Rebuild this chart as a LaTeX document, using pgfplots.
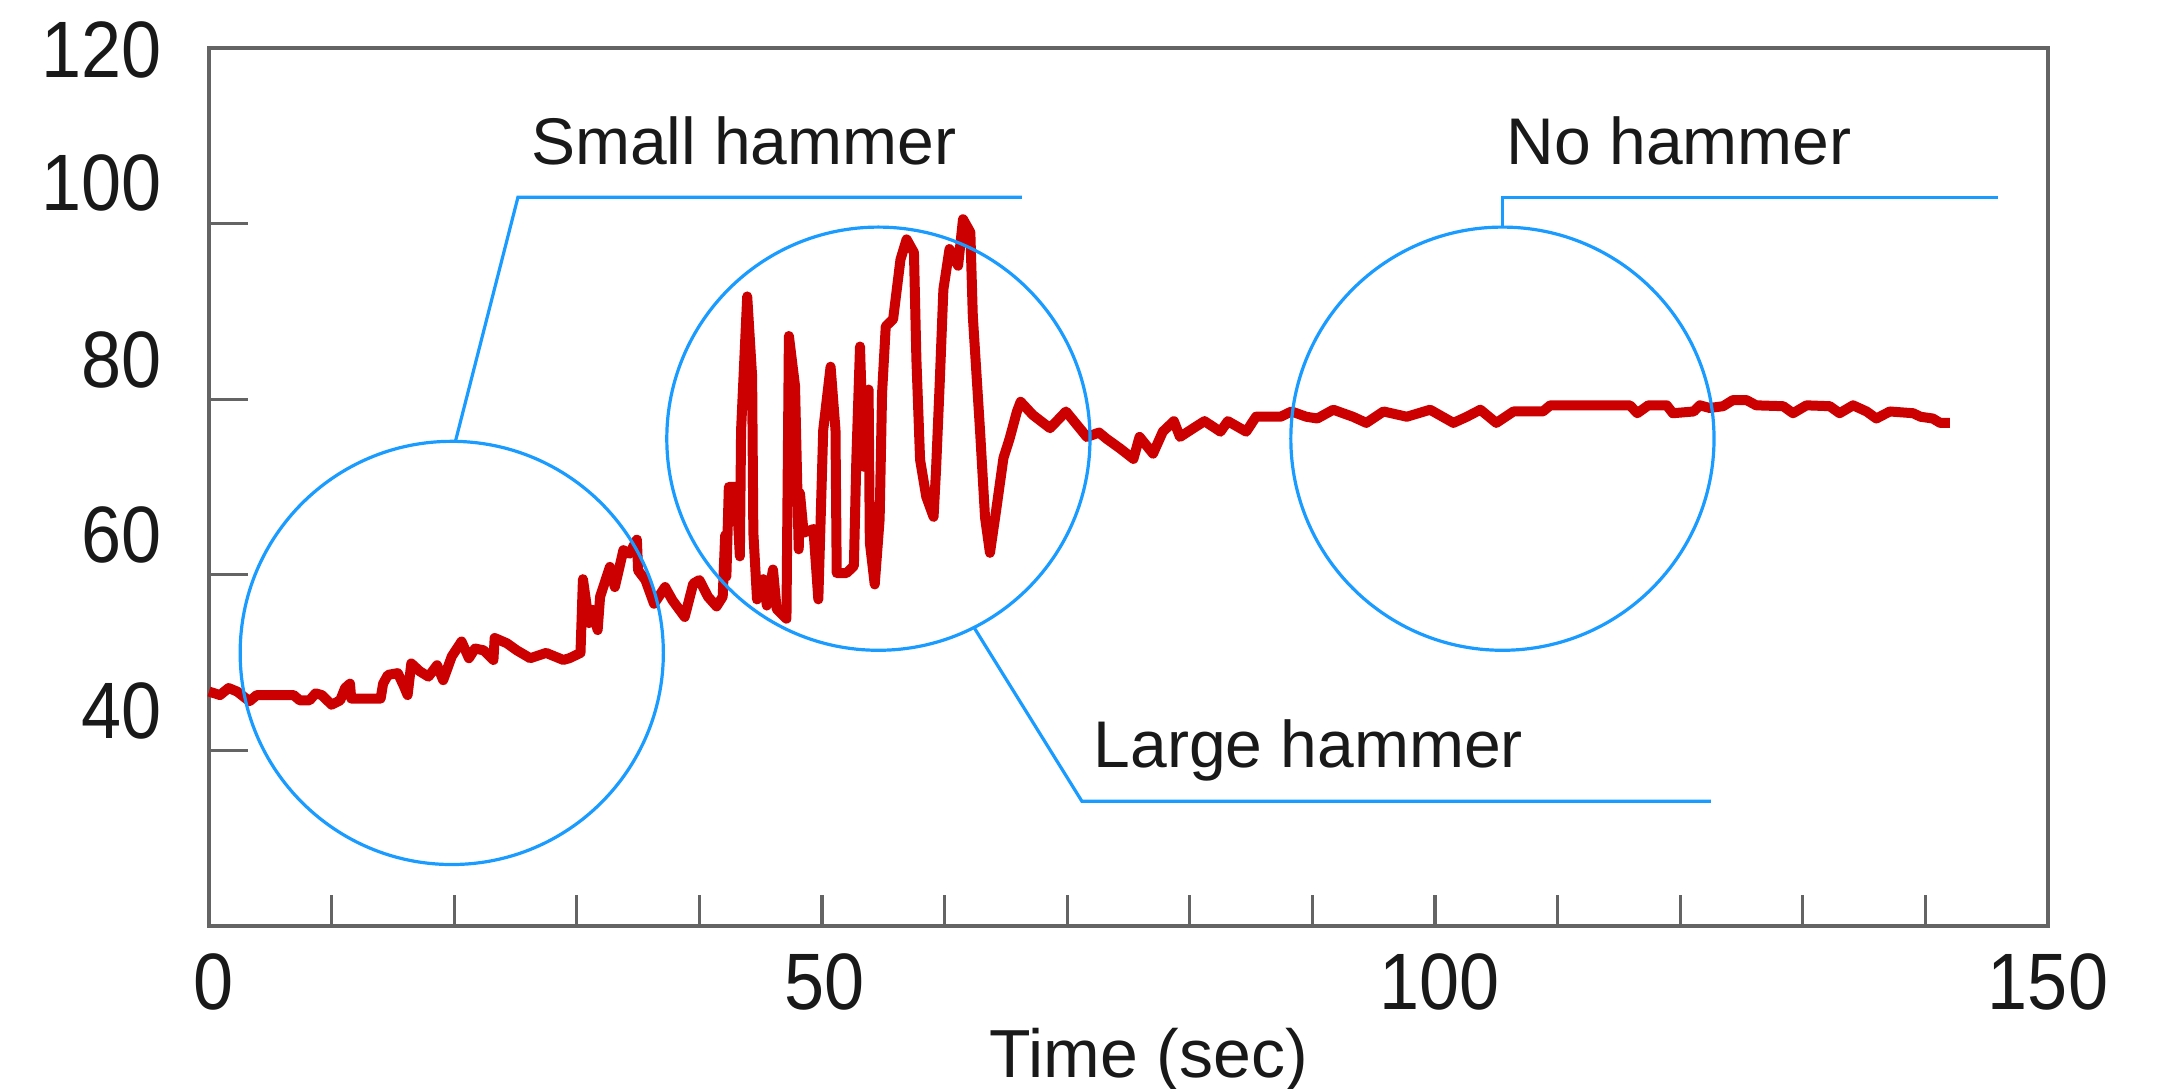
\documentclass[border=0pt]{standalone}
\usepackage{pgfplots}
\pgfplotsset{compat=1.18}
\usepackage{fontspec}
\setmainfont{Liberation Sans}
\newfontfamily\tickfont[FakeStretch=0.9]{Liberation Sans}
\definecolor{redline}{RGB}{204,0,0}
\definecolor{callout}{RGB}{25,155,255}
\definecolor{axisgray}{RGB}{100,100,100}
\definecolor{txt}{RGB}{25,25,25}
\begin{document}
\begin{tikzpicture}
\useasboundingbox (0,0) rectangle (540.25pt,272.25pt);
\begin{axis}[
  at={(52.25pt,40.75pt)}, anchor=south west,
  width=459.75pt, height=219.5pt, scale only axis,
  xmin=0, xmax=150, ymin=20, ymax=120,
  clip=false,
  axis line style={axisgray, line width=0.9pt},
  tick style={axisgray, line width=0.8pt},
  tick pos=left,
  xtick={0.4,50.2,100.4,150}, xticklabels={0,50,100,150},
  ytick={44.5,64.5,84.5,104.6,119.8}, yticklabels={40,60,80,100,120},
  major tick length=0pt,
  extra x ticks={10,20,...,140}, extra x tick labels={},
  extra x tick style={major tick length=7.75pt},
  extra y ticks={40,60,80,100}, extra y tick labels={},
  extra y tick style={major tick length=9.75pt},
  xticklabel style={font=\tickfont\fontsize{20}{24}\selectfont, text=txt, inner sep=0pt, anchor=north, yshift=-6.75pt},
  yticklabel style={font=\tickfont\fontsize{20}{24}\selectfont, text=txt, inner sep=0pt, anchor=east, xshift=-11.75pt},
  xlabel={Time (sec)},
  xlabel style={at={(axis description cs:0.511,-0.172)}, anchor=base, inner sep=0pt, font=\fontsize{17}{20}\selectfont, text=txt},
]
\addplot[redline, line width=2.5pt, line join=round, no markers] coordinates {
(0,46.7) (0.9,46.3) (1.6,47.1) (2.3,46.7) (3.3,45.6) (3.9,46.3) (6.9,46.3) (7.4,45.7) (8.2,45.7) (8.7,46.5) (9.2,46.3) (10.0,45.2) (10.7,45.7) (11.1,47.1) (11.5,47.6) (11.6,45.9) (14.0,45.9) (14.2,47.6) (14.6,48.6) (15.4,48.8) (15.9,47.3) (16.2,46.3) (16.5,49.9) (17.2,49.0) (17.9,48.4) (18.6,49.7) (19.1,48.0) (19.8,50.7) (20.6,52.4) (21.2,50.5) (21.7,51.6) (22.4,51.4) (23.2,50.3) (23.3,52.8) (24.3,52.2) (25.1,51.4) (26.2,50.5) (27.5,51.1) (28.9,50.3) (29.4,50.5) (30.3,51.1) (30.5,59.5) (31.0,54.5) (31.3,56.0) (31.7,53.7) (31.9,57.5) (32.7,60.9) (33.1,58.6) (33.8,62.8) (34.3,62.4) (34.9,64.0) (35.0,60.5) (35.6,59.4) (36.3,56.7) (37.2,58.6) (37.8,57.1) (38.8,55.2) (39.5,59.0) (40.0,59.4) (40.7,57.5) (41.4,56.4) (41.9,57.5) (42.1,64.5) (42.2,59.8) (42.4,70.0) (43.0,70.0) (43.3,62.1) (43.4,76.5) (43.9,91.7) (44.3,82.6) (44.4,64.8) (44.7,57.2) (45.2,59.5) (45.5,56.5) (46.0,60.6) (46.3,56.1) (47.1,55.0) (47.3,87.2) (47.8,81.5) (48.1,62.9) (48.2,69.3) (48.5,64.8) (49.3,65.2) (49.7,57.2) (50.1,76.5) (50.7,83.7) (51.1,76.5) (51.2,60.2) (52.0,60.2) (52.6,61.0) (52.8,73.1) (53.1,86.0) (53.4,72.3) (53.8,81.1) (53.9,63.7) (54.3,58.9) (54.7,66.3) (54.9,80.7) (55.2,88.3) (55.8,89.1) (56.1,92.5) (56.4,95.9) (56.9,98.2) (57.5,96.7) (57.7,84.5) (58.0,73.1) (58.5,68.9) (59.1,66.6) (59.3,71.9) (59.6,81.8) (59.9,92.5) (60.4,97.1) (61.1,95.2) (61.5,100.5) (62.1,99.0) (62.3,89.5) (62.9,76.2) (63.3,66.5) (63.7,62.5) (64.2,67.3) (64.8,73.3) (65.3,75.5) (65.9,78.6) (66.2,79.7) (67.2,78.2) (68.6,76.7) (69.9,78.6) (71.6,75.7) (72.6,76.2) (73.2,75.5) (74.3,74.4) (75.4,73.2) (75.9,75.7) (77.0,73.8) (77.8,76.3) (78.7,77.5) (79.2,75.7) (80.3,76.7) (81.2,77.5) (82.5,76.3) (83.1,77.5) (84.6,76.3) (85.4,78.0) (87.4,78.0) (88.3,78.6) (89.5,78.0) (90.4,77.8) (91.7,78.8) (93.3,78.0) (94.4,77.3) (95.8,78.6) (97.7,78.0) (99.6,78.8) (101.5,77.3) (102.6,78.0) (103.7,78.8) (105.0,77.3) (106.4,78.6) (108.8,78.6) (109.4,79.3) (115.9,79.3) (116.5,78.4) (117.4,79.3) (118.9,79.3) (119.4,78.4) (121.1,78.6) (121.6,79.3) (122.4,79.0) (123.5,79.2) (124.3,79.9) (125.4,79.9) (126.2,79.3) (128.4,79.2) (129.2,78.4) (130.3,79.3) (132.2,79.2) (133.0,78.4) (134.1,79.3) (135.2,78.6) (136.0,77.8) (137.1,78.6) (139.0,78.4) (139.6,78.0) (140.6,77.8) (141.2,77.3) (142.0,77.3)
};
\draw[callout, line width=0.8pt] (axis cs:19.8,51.1) circle[radius=52.9pt];
\draw[callout, line width=0.8pt] (axis cs:54.6,75.5) circle[radius=52.9pt];
\draw[callout, line width=0.8pt] (axis cs:105.5,75.5) circle[radius=52.9pt];
\draw[callout, line width=0.8pt] (axis cs:20.1,75.2) -- (axis cs:25.2,103) -- (axis cs:66.3,103);
\draw[callout, line width=0.8pt] (axis cs:105.5,99.5) -- (axis cs:105.5,103) -- (axis cs:145.9,103);
\draw[callout, line width=0.8pt] (axis cs:62.4,54.0) -- (axis cs:71.2,34.2) -- (axis cs:122.5,34.2);
\node[anchor=base west, inner sep=0pt, font=\fontsize{16.5}{20}\selectfont, text=txt] at (axis cs:26.2,106.7) {Small hammer};
\node[anchor=base west, inner sep=0pt, font=\fontsize{16.5}{20}\selectfont, text=txt] at (axis cs:105.8,106.7) {No hammer};
\node[anchor=base west, inner sep=0pt, font=\fontsize{16.5}{20}\selectfont, text=txt] at (axis cs:72.1,38.1) {Large hammer};
\end{axis}
\end{tikzpicture}
\end{document}
